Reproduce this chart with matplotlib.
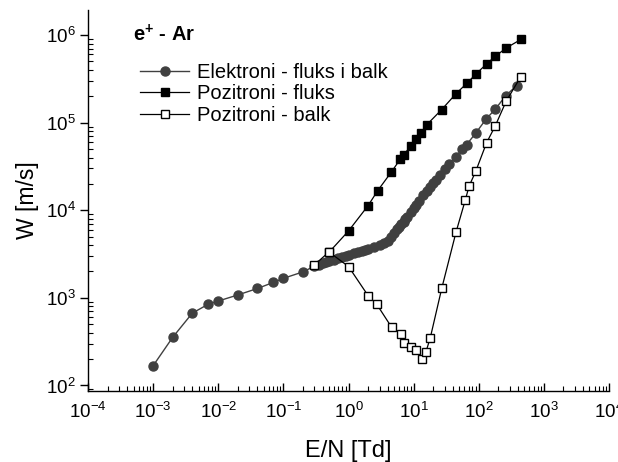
import matplotlib
matplotlib.use("Agg")
import matplotlib.pyplot as plt
from matplotlib.ticker import LogLocator, NullFormatter

plt.rcParams['font.family'] = ['Liberation Sans', 'DejaVu Sans']
plt.rcParams['mathtext.fontset'] = 'custom'
plt.rcParams['mathtext.rm'] = 'Liberation Sans'
plt.rcParams['mathtext.it'] = 'Liberation Sans:italic'
plt.rcParams['mathtext.bf'] = 'Liberation Sans:bold'

# Electrons - flux and bulk
elec_x = [0.001, 0.002, 0.004, 0.007, 0.01, 0.02, 0.04, 0.07, 0.1, 0.2,
          0.3, 0.35, 0.4, 0.45, 0.5, 0.6, 0.7, 0.8, 0.9, 1.0, 1.2, 1.4, 1.6,
          1.8, 2.0, 2.5, 3.0, 3.5, 4.0, 4.5, 5.0, 5.5, 6.0, 6.5, 7.0, 7.5,
          8.0, 9.0, 10, 11, 12, 14, 16, 18, 20, 22, 25, 30, 35, 45, 55, 65,
          90, 130, 180, 260, 380]
elec_y = [168, 355, 670, 845, 920, 1080, 1280, 1500, 1670, 1980,
          2300, 2400, 2480, 2560, 2620, 2740, 2850, 2940, 3020, 3080, 3220,
          3340, 3450, 3550, 3650, 3850, 4050, 4200, 4400, 4950, 5560, 6050,
          6500, 6950, 7350, 7850, 8400, 9500, 10500, 11400, 12700, 14800,
          16600, 18600, 20500, 22000, 25500, 29500, 34000, 41000, 49500,
          56000, 76000, 110000, 143000, 203000, 264000]

# Positrons - flux
flux_x = [0.5, 1.0, 2.0, 2.8, 4.5, 6.2, 7, 9, 11, 13, 16, 27, 45, 66, 91,
          132, 178, 263, 443]
flux_y = [3300, 5800, 11300, 16700, 27000, 38000, 43000, 53500, 65000,
          76000, 95000, 141000, 215000, 282000, 360000, 468000, 569000,
          710000, 890000]

# Positrons - bulk
bulk_x = [0.3, 0.5, 1.0, 2.0, 2.7, 4.6, 6.4, 7.2, 9, 11, 13.6, 15.4, 18,
          27, 45, 62, 71, 90, 132, 178, 263, 443]
bulk_y = [2380, 3340, 2280, 1060, 850, 461, 387, 303, 273, 257, 198, 240,
          349, 1280, 5700, 13000, 18800, 27900, 59000, 90800, 175000, 336000]

labels = ["Elektroni - fluks i balk", "Pozitroni - fluks", "Pozitroni - balk"]

fig = plt.figure(figsize=(6.18, 4.62), dpi=100)
ax = fig.add_axes([88/618, 1-391/462, (609-88)/618, (391-10)/462])

ax.plot(elec_x, elec_y, '-', color='#404040', lw=1.0, marker='o',
        markersize=6.5, markerfacecolor='#404040', markeredgecolor='#404040',
        label=labels[0], zorder=3)
ax.plot(flux_x, flux_y, '-', color='black', lw=0.9, marker='s',
        markersize=5.5, markerfacecolor='black', markeredgecolor='black',
        label=labels[1], zorder=4)
ax.plot(bulk_x, bulk_y, '-', color='black', lw=0.9, marker='s',
        markersize=5.5, markerfacecolor='white', markeredgecolor='black',
        markeredgewidth=1.0, label=labels[2], zorder=5)

ax.set_xscale('log')
ax.set_yscale('log')
ax.set_xlim(1e-4, 1e4)
ax.set_ylim(86.5, 1.93e6)

ax.xaxis.set_major_locator(LogLocator(base=10, numticks=20))
ax.xaxis.set_minor_locator(LogLocator(base=10, subs=range(2, 10), numticks=20))
ax.yaxis.set_major_locator(LogLocator(base=10, numticks=20))
ax.yaxis.set_minor_locator(LogLocator(base=10, subs=range(2, 10), numticks=20))
ax.xaxis.set_minor_formatter(NullFormatter())
ax.yaxis.set_minor_formatter(NullFormatter())

for s in ['top', 'right']:
    ax.spines[s].set_visible(False)
for s in ['left', 'bottom']:
    ax.spines[s].set_linewidth(1.0)

ax.tick_params(axis='x', which='major', direction='in', length=6, width=1.0,
               labelsize=13.5, pad=8)
ax.tick_params(axis='x', which='minor', direction='in', length=3.5, width=0.8)
ax.tick_params(axis='y', which='major', direction='out', length=6, width=1.0,
               labelsize=13.5, pad=3)
ax.tick_params(axis='y', which='minor', direction='in', length=3.5, width=0.8)

ax.set_xlabel("E/N [Td]", fontsize=17, labelpad=13)
ax.set_ylabel("W [m/s]", fontsize=16.5, labelpad=5)

fig.text(133/618, 1-35/462, r"$\mathbf{e^{+}}$ - Ar", fontsize=14.5,
         fontweight='bold', ha='left', va='center')

leg = ax.legend(loc='upper left', bbox_to_anchor=(140/618, 1-63/462),
                bbox_transform=fig.transFigure, frameon=False, fontsize=14.5,
                handlelength=2.45, handletextpad=0.4, labelspacing=0.12,
                borderpad=0.0, borderaxespad=0.0, numpoints=1)

fig.savefig("out.png", dpi=100)
